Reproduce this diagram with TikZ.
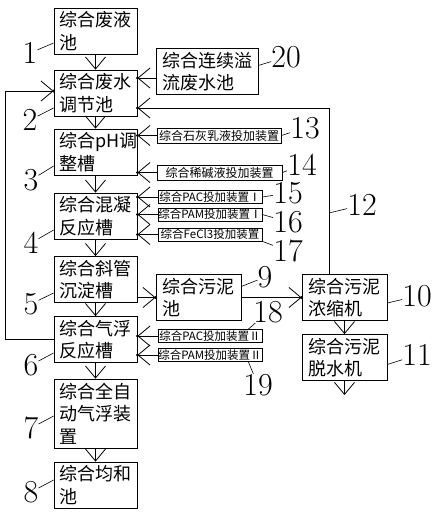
\documentclass[tikz,border=0pt]{standalone}
\usepackage{fontspec}
\newfontfamily\cjk{Noto Sans CJK SC}
\usetikzlibrary{arrows.meta,decorations.markings}

\begin{document}
\begin{tikzpicture}[
  x=1pt, y=-1pt,
  every node/.style={font=\cjk},
  unit/.style={rectangle, draw=black, line width=0.8pt, minimum width=83pt,
               minimum height=46pt, text width=72pt, align=left, inner sep=0pt,
               font=\cjk\fontsize{18}{22.5}\selectfont},
  doser/.style={rectangle, draw=black, line width=0.8pt, minimum width=104pt,
                minimum height=13pt, inner sep=0pt, font=\cjk\fontsize{11.5}{12}\selectfont},
  num/.style={inner sep=0pt, font=\rmfamily\fontsize{32}{32}\selectfont},
  arr/.style={-{Straight Barb[length=12pt,width=20pt]}, line width=0.8pt},
  arrd/.style={arr, postaction={decorate},
               decoration={markings, mark=at position 1 with {\fill (0,0) circle (1.6pt);}}},
  lead/.style={line width=0.6pt}
]
\useasboundingbox (0,0) rectangle (440,517);

% main treatment line
\node[unit] (b1) at (95.5,31)    {综合废液\\池};
\node[unit] (b2) at (95.5,93)    {综合废水\\调节池};
\node[unit] (b3) at (95.5,152)   {综合pH调\\整槽};
\node[unit] (b4) at (95.5,216)   {综合混凝\\反应槽};
\node[unit] (b5) at (95.5,279.5) {综合斜管\\沉淀槽};
\node[unit] (b6) at (95.5,339.5) {综合气浮\\反应槽};
\node[unit, minimum height=69pt] (b7) at (95.5,413.5) {综合全自\\动气浮装\\置};
\node[unit] (b8) at (95.5,485)   {综合均和\\池};
\node[unit, minimum width=102pt, text width=90pt] (b20) at (207,71.5) {综合连续溢\\流废水池};

% sludge line
\node[unit, minimum width=85pt] (b9)  at (198.5,297.5) {综合污泥\\池};
\node[unit, minimum width=85pt] (b10) at (344.5,297.5) {综合污泥\\浓缩机};
\node[unit, minimum width=85pt] (b11) at (344.5,357.5) {综合污泥\\脱水机};

% dosing devices
\node[doser, minimum width=124pt, minimum height=15pt, font=\cjk\fontsize{12}{12}\selectfont] (s13) at (219,135.5) {综合石灰乳液投加装置};
\node[doser, minimum width=125pt, minimum height=15pt, font=\cjk\fontsize{12}{12}\selectfont] (s14) at (219.5,172.5) {综合稀碱液投加装置};
\node[doser] (s15) at (210,197)   {综合PAC投加装置Ⅰ};
\node[doser] (s16) at (210,214.5) {综合PAM投加装置Ⅰ};
\node[doser] (s17) at (210,234.5) {综合FeCl3投加装置};
\node[doser] (s18) at (210,336)   {综合PAC投加装置Ⅱ};
\node[doser] (s19) at (210,355)   {综合PAM投加装置Ⅱ};

\coordinate (out)  at (344.5,395);
\coordinate (ret)  at (329,108);
\coordinate (loop) at (5,91);
\coordinate (c12)  at (329,213);

% flows
\foreach \a/\b in {b1/b2,b2/b3,b3/b4,b4/b5,b5/b6,b6/b7,b7/b8,b10/b11}
  \draw[arr] (\a) -- (\b);
\draw[arr] (b11) -- (out);
\draw[arrd] (b9.west -| b5.east) -- (b9.west);
\draw[arrd] (b9) -- (b10);
\foreach \s/\b in {s13/b3,s14/b3,s15/b4,s16/b4,s17/b4,s18/b6,s19/b6}
  \draw[arrd] (\s.west) -- (\s.west -| \b.east);
\draw[arrd] ([yshift=-6.5pt]b20.west) -- ([yshift=-6.5pt]b20.west -| b2.east);
\draw[arrd] (ret |- b10.north) -- (ret) -- (ret -| b2.east);
\draw[arrd] (b6.west) -- (b6.west -| loop) -- (loop) -- (loop -| b2.west);

% reference numbers
\node[num] (n1) at (30,53)  {1};
\node[num] (n2) at (30,120) {2};
\node[num] (n3) at (31,180) {3};
\node[num] (n4) at (31,243) {4};
\node[num] (n5) at (31,304) {5};
\node[num] (n6) at (31,365) {6};
\node[num] (n7) at (31,428) {7};
\node[num] (n8) at (31,492) {8};
\node[num] (n9)  at (265,277) {9};
\node[num] (n10) at (417,296) {10};
\node[num] (n11) at (417,355) {11};
\node[num] (n12) at (362,205) {12};
\node[num] (n13) at (305,128) {13};
\node[num] (n14) at (302,165) {14};
\node[num] (n15) at (288,193) {15};
\node[num] (n16) at (288,222) {16};
\node[num] (n17) at (288,251) {17};
\node[num] (n18) at (268,312) {18};
\node[num] (n19) at (258,385) {19};
\node[num] (n20) at (286,57)  {20};

% leaders
\foreach \i/\s in {1/-12,2/-15,3/-14,4/-14,5/-13.5,6/-13.5,7/-2.5,8/5}
  \draw[lead] ([yshift=\s pt]b\i.west) -- (n\i);
\draw[lead] ([yshift=6pt]b20.east) -- (n20);
\foreach \s in {13,14,15,16}
  \draw[lead] (s\s.east) -- (n\s);
\draw[lead] (s17.south east) -- (n17);
\draw[lead] (c12) -- (n12);
\draw[lead] ([yshift=11pt]b9.east) -- (n9);
\draw[lead] ([xshift=-14pt]s18.north east) -- (n18);
\draw[lead] ([xshift=-14pt]s19.south east) -- (n19);
\draw[lead] ([yshift=-5.5pt]b10.east) -- (n10);
\draw[lead] ([yshift=-7pt]b11.east) -- (n11);
\end{tikzpicture}
\end{document}
